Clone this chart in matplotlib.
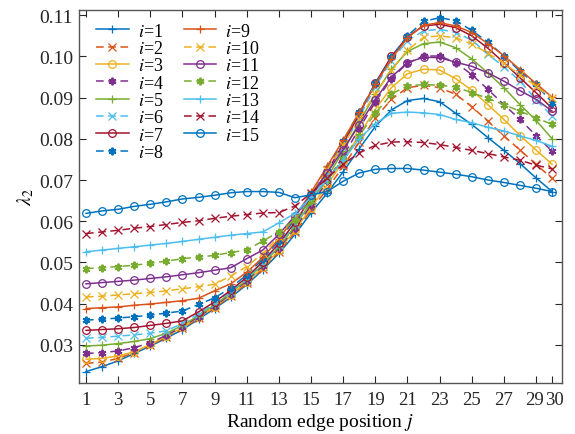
import matplotlib
matplotlib.use('Agg')
import matplotlib.pyplot as plt
import matplotlib.transforms as mtransforms

plt.rcParams['font.family'] = ['Liberation Serif', 'DejaVu Serif']
plt.rcParams['mathtext.fontset'] = 'stix'

# random edge position j
j = list(range(1, 31))

# lambda_2 values for each i
lam_i1 = [0.0235, 0.0247, 0.0261, 0.0279, 0.0297, 0.0316, 0.0337, 0.0362, 0.0388,
          0.0415, 0.0446, 0.0482, 0.0522, 0.0568, 0.0620,
          0.0668, 0.0720, 0.0776, 0.0830, 0.0870, 0.0893, 0.0898,
          0.0890, 0.0862, 0.0835, 0.0803, 0.0772, 0.0740, 0.0705, 0.0672]
lam_i2 = [0.0255, 0.0258, 0.0267, 0.0281, 0.0299, 0.0319, 0.0340, 0.0364, 0.0390,
          0.0418, 0.0449, 0.0485, 0.0526, 0.0573, 0.0627,
          0.0678, 0.0733, 0.0792, 0.0850, 0.0896, 0.0924, 0.0930,
          0.0924, 0.0908, 0.0878, 0.0843, 0.0807, 0.0773, 0.0738, 0.0704]
lam_i3 = [0.0265, 0.0267, 0.0273, 0.0283, 0.0301, 0.0321, 0.0342, 0.0367, 0.0392,
          0.0421, 0.0452, 0.0488, 0.0530, 0.0578, 0.0633,
          0.0688, 0.0746, 0.0810, 0.0872, 0.0924, 0.0958, 0.0969,
          0.0967, 0.0946, 0.0918, 0.0883, 0.0847, 0.0808, 0.0773, 0.0738]
lam_i4 = [0.0279, 0.0281, 0.0285, 0.0293, 0.0305, 0.0323, 0.0344, 0.0368, 0.0394,
          0.0423, 0.0455, 0.0492, 0.0534, 0.0583, 0.0639,
          0.0697, 0.0758, 0.0825, 0.0890, 0.0946, 0.0984, 0.1001,
          0.1001, 0.0985, 0.0956, 0.0920, 0.0883, 0.0847, 0.0808, 0.0770]
lam_i5 = [0.0297, 0.0299, 0.0303, 0.0308, 0.0315, 0.0328, 0.0347, 0.0371, 0.0397,
          0.0426, 0.0458, 0.0495, 0.0538, 0.0588, 0.0646,
          0.0706, 0.0770, 0.0840, 0.0909, 0.0969, 0.1012, 0.1031,
          0.1035, 0.1021, 0.0994, 0.0960, 0.0924, 0.0883, 0.0845, 0.0800]
lam_i6 = [0.0316, 0.0318, 0.0321, 0.0324, 0.0328, 0.0334, 0.0352, 0.0375, 0.0401,
          0.0429, 0.0461, 0.0499, 0.0542, 0.0593, 0.0652,
          0.0714, 0.0781, 0.0853, 0.0926, 0.0990, 0.1038, 0.1062,
          0.1066, 0.1058, 0.1040, 0.1005, 0.0975, 0.0940, 0.0895, 0.0855]
lam_i7 = [0.0335, 0.0337, 0.0339, 0.0342, 0.0347, 0.0352, 0.0358, 0.0380, 0.0404,
          0.0432, 0.0464, 0.0502, 0.0546, 0.0597, 0.0657,
          0.0720, 0.0788, 0.0860, 0.0935, 0.1000, 0.1048, 0.1074,
          0.1078, 0.1070, 0.1050, 0.1020, 0.0985, 0.0948, 0.0912, 0.0874]
lam_i8 = [0.0360, 0.0362, 0.0365, 0.0368, 0.0372, 0.0377, 0.0382, 0.0398, 0.0414,
          0.0438, 0.0470, 0.0508, 0.0553, 0.0605, 0.0666,
          0.0730, 0.0795, 0.0865, 0.0935, 0.0998, 0.1050, 0.1085,
          0.1094, 0.1087, 0.1063, 0.1035, 0.1001, 0.0964, 0.0932, 0.0888]
lam_i9 = [0.0388, 0.0390, 0.0392, 0.0396, 0.0399, 0.0403, 0.0407, 0.0413, 0.0431,
          0.0448, 0.0476, 0.0512, 0.0557, 0.0610, 0.0670,
          0.0733, 0.0797, 0.0864, 0.0932, 0.0994, 0.1045, 0.1076,
          0.1082, 0.1074, 0.1058, 0.1031, 0.1002, 0.0968, 0.0934, 0.0901]
lam_i10 = [0.0416, 0.0418, 0.0421, 0.0424, 0.0427, 0.0431, 0.0436, 0.0441, 0.0447,
           0.0467, 0.0490, 0.0522, 0.0562, 0.0611, 0.0666,
           0.0724, 0.0785, 0.0848, 0.0910, 0.0966, 0.1015, 0.1046,
           0.1050, 0.1045, 0.1030, 0.1008, 0.0983, 0.0955, 0.0928, 0.0898]
lam_i11 = [0.0448, 0.0451, 0.0454, 0.0457, 0.0461, 0.0465, 0.0470, 0.0475, 0.0481,
           0.0487, 0.0509, 0.0530, 0.0568, 0.0613, 0.0664,
           0.0718, 0.0774, 0.0834, 0.0895, 0.0950, 0.0985, 0.0998,
           0.0997, 0.0986, 0.0976, 0.0960, 0.0940, 0.0917, 0.0896, 0.0867]
lam_i12 = [0.0485, 0.0487, 0.0490, 0.0493, 0.0498, 0.0503, 0.0509, 0.0513, 0.0517,
           0.0524, 0.0530, 0.0552, 0.0574, 0.0604, 0.0650,
           0.0700, 0.0752, 0.0808, 0.0862, 0.0909, 0.0928, 0.0932,
           0.0930, 0.0926, 0.0912, 0.0898, 0.0883, 0.0867, 0.0851, 0.0835]
lam_i13 = [0.0526, 0.0530, 0.0534, 0.0538, 0.0542, 0.0546, 0.0551, 0.0556, 0.0561,
           0.0566, 0.0570, 0.0574, 0.0596, 0.0619, 0.0658,
           0.0700, 0.0748, 0.0800, 0.0837, 0.0862, 0.0865, 0.0863,
           0.0859, 0.0847, 0.0839, 0.0828, 0.0819, 0.0807, 0.0796, 0.0782]
lam_i14 = [0.0570, 0.0574, 0.0578, 0.0583, 0.0587, 0.0592, 0.0597, 0.0601, 0.0607,
           0.0612, 0.0616, 0.0620, 0.0621, 0.0637, 0.0668,
           0.0705, 0.0738, 0.0766, 0.0784, 0.0792, 0.0793, 0.0791,
           0.0786, 0.0779, 0.0772, 0.0764, 0.0756, 0.0748, 0.0736, 0.0727]
lam_i15 = [0.0619, 0.0625, 0.0629, 0.0636, 0.0641, 0.0647, 0.0654, 0.0658, 0.0663,
           0.0669, 0.0672, 0.0672, 0.0670, 0.0657, 0.0664,
           0.0672, 0.0697, 0.0717, 0.0726, 0.0728, 0.0728, 0.0724,
           0.0719, 0.0714, 0.0708, 0.0700, 0.0694, 0.0687, 0.0680, 0.0672]

series = [lam_i1, lam_i2, lam_i3, lam_i4, lam_i5, lam_i6, lam_i7, lam_i8,
          lam_i9, lam_i10, lam_i11, lam_i12, lam_i13, lam_i14, lam_i15]
labels = [r'$i$=%d' % k for k in range(1, 16)]

# MATLAB default colour order
colors = ['#0072BD', '#D95319', '#EDB120', '#7E2F8E', '#77AC30', '#4DBEEE', '#A2142F']
markers = ['+', 'x', 'o', (6, 2, 0)]

fig = plt.figure(figsize=(5.75, 4.35), dpi=100)
ax = fig.add_axes([0.137, 0.117, 0.840, 0.858])

for k, y in enumerate(series):
    c = colors[k % 7]
    m = markers[k % 4]
    ls = '-' if k % 2 == 0 else (0, (5, 3))
    mfc = 'none' if m == 'o' else c
    mew = 1.4 if m == (6, 2, 0) else 0.9
    ax.plot(j, y, linestyle=ls, color=c, marker=m, markersize=5.5,
            markerfacecolor=mfc, markeredgewidth=mew, linewidth=1.1,
            label=labels[k])

ax.set_xlim(0.55, 30.6)
ax.set_ylim(0.0207, 0.1113)
xt = [1, 3, 5, 7, 9, 11, 13, 15, 17, 19, 21, 23, 25, 27, 29, 30]
ax.set_xticks(xt)
ax.set_xticklabels([str(v) for v in xt])
yt = [0.03, 0.04, 0.05, 0.06, 0.07, 0.08, 0.09, 0.10, 0.11]
ax.set_yticks(yt)
ax.set_yticklabels(['%.2f' % v for v in yt])
ax.tick_params(direction='in', top=True, right=True, labelsize=14,
               length=5, width=0.8, colors='#262626')
ax.tick_params(axis='x', labelsize=13.5, pad=6)
ax.tick_params(axis='y', pad=4)
for s in ax.spines.values():
    s.set_color('#555555')
    s.set_linewidth(1.0)

# nudge the crowded "29" and "30" labels apart
xlabs = ax.get_xticklabels()
xlabs[-2].set_transform(xlabs[-2].get_transform() +
                        mtransforms.ScaledTranslation(-2 / 100, 0, fig.dpi_scale_trans))
xlabs[-1].set_transform(xlabs[-1].get_transform() +
                        mtransforms.ScaledTranslation(2 / 100, 0, fig.dpi_scale_trans))

ax.set_xlabel(r'Random edge position $j$', fontsize=14, labelpad=2)
ax.set_ylabel(r'$\lambda_2$', fontsize=14, labelpad=2)

ax.legend(loc='upper left', ncol=2, frameon=False, fontsize=13,
          handlelength=1.8, handletextpad=0.5, columnspacing=1.1,
          labelspacing=0.02, borderaxespad=0.3, bbox_to_anchor=(0.01, 1.0))

fig.savefig('out.png', dpi=100)
